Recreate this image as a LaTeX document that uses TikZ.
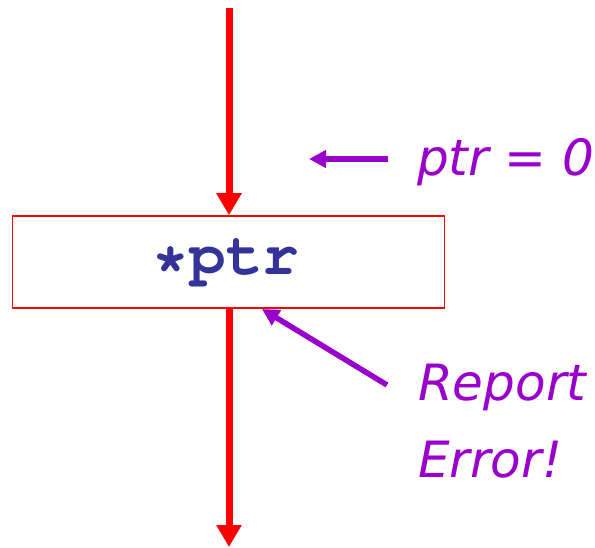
\documentclass[tikz,border=0pt]{standalone}
\usepackage[T1]{fontenc}
\usepackage{fontspec}
\usetikzlibrary{arrows.meta}
\newfontfamily\notefont{DejaVu Sans}
\newcommand{\mycodefont}{\fontencoding{T1}\fontfamily{pcr}\fontseries{b}\selectfont}
\definecolor{flowred}{RGB}{255,0,0}
\definecolor{notepurple}{RGB}{153,0,204}
\definecolor{codeblue}{RGB}{51,51,153}
\tikzset{
  flow/.style={draw=flowred, line width=7pt, -{Triangle[width=24pt,length=22pt]}},
  note/.style={draw=notepurple, line width=5.5pt, -{Triangle[width=17pt,length=17pt]}},
  stmt/.style={draw=flowred, line width=1.5pt, minimum width=432pt, minimum height=92pt, inner sep=0pt,
    font=\mycodefont\fontsize{61}{61}\selectfont, text=codeblue},
  label/.style={font=\notefont\itshape\fontsize{50}{74}\selectfont, text=notepurple, anchor=base west, inner sep=0pt, align=left}
}
\begin{document}
\begin{tikzpicture}[x=1pt,y=-1pt]
\useasboundingbox (0,0) rectangle (595,548);
\node[stmt] (box) at (228.5,262) {\hspace*{-5pt}*ptr};
\coordinate (top) at (229,8);
\coordinate (bot) at (229,547);
\coordinate (n1s) at (388,159);
\coordinate (n1e) at (309,159);
\coordinate (n2s) at (387,385);
\coordinate (n2e) at (262,309);
\draw[flow] (top) -- (box.north -| top);
\draw[flow] (box.south -| bot) -- (bot);
\draw[note] (n1s) -- (n1e);
\draw[note] (n2s) -- (n2e);
\node[label] (l1) at (417,176) {ptr = 0};
\node[label] (l2) at (418,400) {Report};
\node[label] (l3) at (418,477) {Error!};
\end{tikzpicture}
\end{document}
